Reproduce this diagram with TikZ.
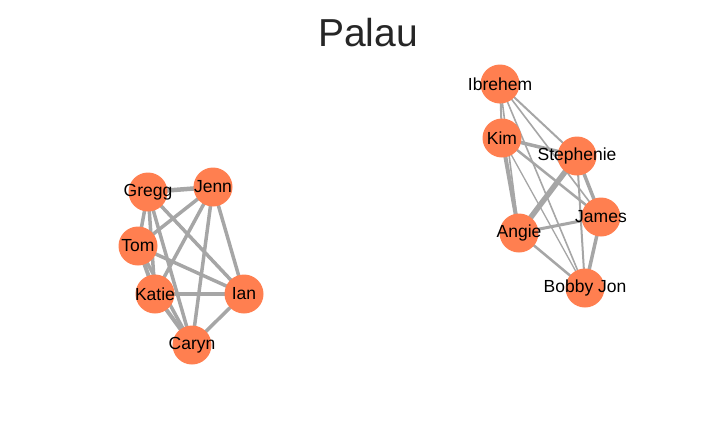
\documentclass[tikz,border=0pt]{standalone}
\usepackage{fontspec}
\setmainfont{Liberation Sans}
\pgfdeclarelayer{bg}
\pgfsetlayers{bg,main}
\definecolor{nodecol}{HTML}{FF7F50}
\definecolor{edgecol}{HTML}{A6A6A6}
\definecolor{titlecol}{HTML}{262626}
\tikzset{
  person/.style={circle, fill=nodecol, minimum size=39pt, inner sep=0pt,
    label={[font=\fontsize{17.5}{17.5}\selectfont, text=black, inner sep=0pt]center:#1}},
  tie/.style={draw=edgecol, line width=#1},
  tie/.default=3.5pt
}
\begin{document}
\begin{tikzpicture}[x=1pt,y=-1pt]
\useasboundingbox (0,0) rectangle (720,432);
\node[font=\fontsize{39}{39}\selectfont, text=titlecol, anchor=base] (title) at (368,46) {Palau};
% left cluster
\node[person=Gregg] (gregg) at (148,192) {};
\node[person=Jenn] (jenn) at (213,187) {};
\node[person=Tom] (tom) at (138,246) {};
\node[person=Katie] (katie) at (155,294) {};
\node[person=Ian] (ian) at (244,294) {};
\node[person=Caryn] (caryn) at (192,345) {};
% right cluster
\node[person=Ibrehem] (ibrehem) at (500,84) {};
\node[person=Kim] (kim) at (502,138) {};
\node[person=Stephenie] (steph) at (577,156) {};
\node[person=James] (james) at (601,217) {};
\node[person=Angie] (angie) at (519,233) {};
\node[person=Bobby Jon] (bobby) at (585,288) {};
\begin{pgfonlayer}{bg}
% left edges
\draw[tie=4.5pt] (gregg.center) -- (jenn.center);
\draw[tie] (gregg.center) -- (tom.center);
\draw[tie] (gregg.center) -- (katie.center);
\draw[tie] (gregg.center) -- (caryn.center);
\draw[tie] (gregg.center) -- (ian.center);
\draw[tie] (jenn.center) -- (tom.center);
\draw[tie] (jenn.center) -- (katie.center);
\draw[tie] (jenn.center) -- (caryn.center);
\draw[tie] (jenn.center) -- (ian.center);
\draw[tie=4pt] (tom.center) -- (katie.center);
\draw[tie] (tom.center) -- (caryn.center);
\draw[tie] (tom.center) -- (ian.center);
\draw[tie=4.5pt] (katie.center) -- (ian.center);
\draw[tie=4pt] (katie.center) -- (caryn.center);
\draw[tie] (ian.center) -- (caryn.center);
% right edges
\draw[tie=2pt] (ibrehem.center) -- (kim.center);
\draw[tie=2pt] (ibrehem.center) -- (steph.center);
\draw[tie=1.6pt] (ibrehem.center) -- (james.center);
\draw[tie=1.6pt] (ibrehem.center) -- (angie.center);
\draw[tie=1.6pt] (ibrehem.center) -- (bobby.center);
\draw[tie=3.5pt] (kim.center) -- (steph.center);
\draw[tie=2.5pt] (kim.center) -- (james.center);
\draw[tie=4pt] (kim.center) -- (angie.center);
\draw[tie=1.3pt] (kim.center) -- (bobby.center);
\draw[tie=5.5pt] (steph.center) -- (angie.center);
\draw[tie=3.5pt] (steph.center) -- (james.center);
\draw[tie=2pt] (steph.center) -- (bobby.center);
\draw[tie=3pt] (angie.center) -- (james.center);
\draw[tie=2.5pt] (angie.center) -- (bobby.center);
\draw[tie=3.5pt] (james.center) -- (bobby.center);
\end{pgfonlayer}
\end{tikzpicture}
\end{document}
